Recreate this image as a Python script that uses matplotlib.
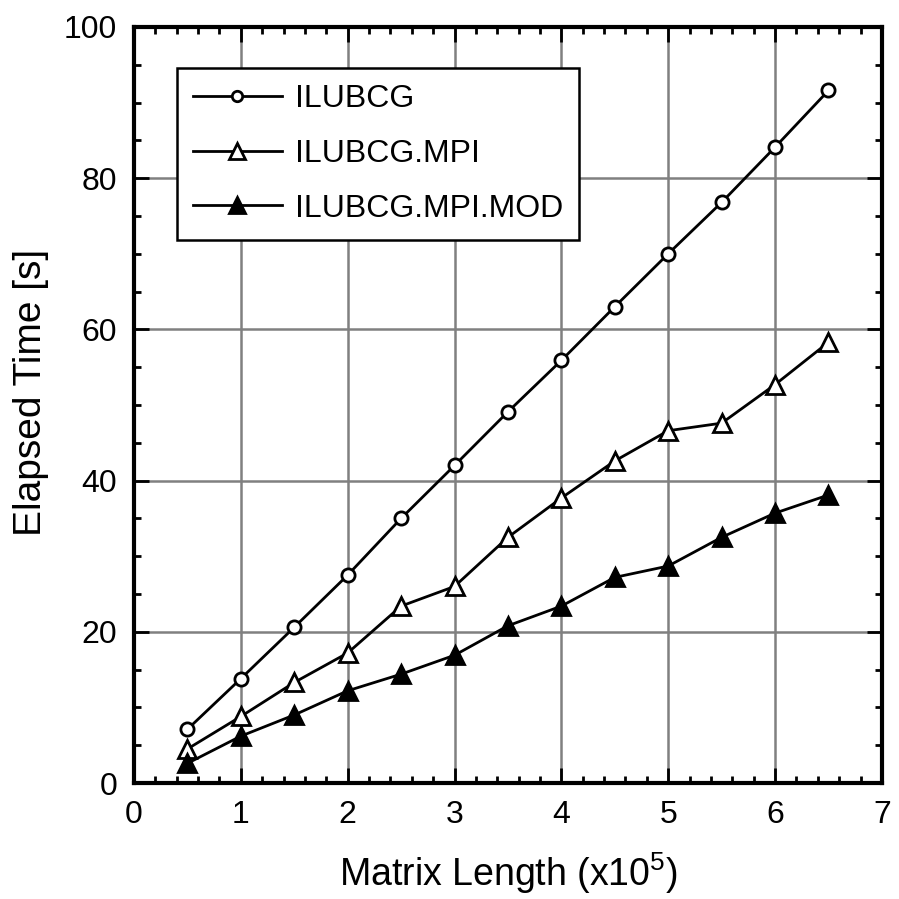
import matplotlib
matplotlib.use('Agg')
import matplotlib.pyplot as plt
from matplotlib.ticker import MultipleLocator

plt.rcParams['font.family'] = ['Liberation Sans', 'DejaVu Sans']
plt.rcParams['mathtext.fontset'] = 'custom'
plt.rcParams['mathtext.rm'] = 'Liberation Sans'
plt.rcParams['mathtext.it'] = 'Liberation Sans'

# matrix length in units of 1e5
length = [0.5, 1.0, 1.5, 2.0, 2.5, 3.0, 3.5, 4.0, 4.5, 5.0, 5.5, 6.0, 6.5]

# elapsed time [s]
t_ilubcg = [7.1, 13.8, 20.6, 27.5, 35.0, 42.0, 49.1, 55.9, 63.0, 70.0, 76.8, 84.1, 91.6]
t_mpi = [4.5, 8.8, 13.3, 17.2, 23.4, 26.0, 32.5, 37.7, 42.6, 46.6, 47.6, 52.7, 58.3]
t_mpi_mod = [2.6, 6.2, 9.0, 12.2, 14.4, 16.9, 20.8, 23.4, 27.2, 28.7, 32.5, 35.7, 38.1]

labels = ['ILUBCG', 'ILUBCG.MPI', 'ILUBCG.MPI.MOD']

fig = plt.figure(figsize=(8.99, 8.99), dpi=100)
ax = fig.add_axes([0.149, 0.129, 0.832, 0.841])

ax.plot(length, t_ilubcg, color='k', lw=2, marker='o', ms=9.5,
        mfc='white', mec='k', mew=2, label=labels[0], zorder=3)
ax.plot(length, t_mpi, color='k', lw=2, marker='^', ms=13,
        mfc='white', mec='k', mew=2, label=labels[1], zorder=3)
ax.plot(length, t_mpi_mod, color='k', lw=2, marker='^', ms=13,
        mfc='k', mec='k', mew=2, label=labels[2], zorder=3)

ax.set_xlim(0, 7)
ax.set_ylim(0, 100)
ax.xaxis.set_major_locator(MultipleLocator(1))
ax.xaxis.set_minor_locator(MultipleLocator(0.2))
ax.yaxis.set_major_locator(MultipleLocator(20))
ax.yaxis.set_minor_locator(MultipleLocator(5))

ax.grid(True, which='major', color='#808080', lw=1.8)
ax.set_axisbelow(True)

for s in ax.spines.values():
    s.set_linewidth(3)
ax.tick_params(which='both', direction='in', top=True, right=True,
               labelsize=23, width=2)
ax.tick_params(which='major', length=11, pad=12)
ax.tick_params(which='minor', length=5)

ax.set_xlabel('Matrix Length (x10$^5$)', fontsize=27, labelpad=15)
ax.set_ylabel('Elapsed Time [s]', fontsize=28, labelpad=11)
ax.yaxis.label.set_y(0.516)

leg = ax.legend(loc='upper left', bbox_to_anchor=(0.057, 0.946),
                borderaxespad=0, fontsize=23, fancybox=False,
                edgecolor='k', framealpha=1, handlelength=2.8,
                handletextpad=0.4, labelspacing=0.78, borderpad=0.5)
leg.get_frame().set_linewidth(1.8)
# legend keys: smaller circle, full-size triangles
for h, ms in zip(leg.legend_handles, [7.5, 12, 12]):
    h.set_markersize(ms)

fig.savefig('out.png', dpi=100)
